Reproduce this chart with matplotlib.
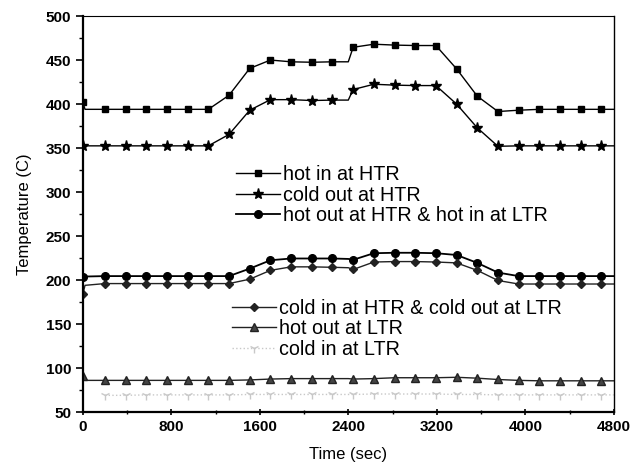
import matplotlib.pyplot as plt
from matplotlib.ticker import MultipleLocator

plt.rcParams['font.family'] = ['Liberation Sans', 'DejaVu Sans']

# czas symulacji (s)
czas = [0, 20, 200, 387, 574, 761, 948, 1135, 1322, 1509, 1696, 1883, 2070, 2257,
        2400, 2444, 2631, 2818, 3005, 3192, 3379, 3566, 3753, 3940, 4127, 4314,
        4501, 4688, 4800]

hot_in_htr = [402, 394, 394, 394, 394, 394, 394, 394, 410, 440.5, 450, 448, 447.5, 448,
              448, 464.5, 468, 467, 466.5, 466.5, 440, 409, 391.5, 393, 394, 394,
              394, 394, 394]
cold_out_htr = [352.5, 352.5, 352.5, 352.5, 352.5, 352.5, 352.5, 352.5, 365.5, 393, 405, 405, 404, 404.5,
                404.5, 416.5, 422.5, 421.5, 421, 421, 400, 373, 352, 352.5, 352.5, 352.5,
                352.5, 352.5, 352.5]
hot_out_htr = [204, 204, 204.5, 204.5, 204.5, 204.5, 204.5, 204.5, 204.5, 213, 222.5, 224.5, 224.5, 224.5,
               224, 223, 230.5, 231, 231, 230.5, 228.5, 219.5, 208.5, 204.5, 204.5, 204.5,
               204.5, 204.5, 204.5]
cold_in_htr = [184, 194, 196, 196, 196, 196, 196, 196, 196, 201, 211, 215, 215, 214.5,
               214, 212, 220.5, 221, 221, 220.5, 219.5, 211, 199.5, 195.5, 195.5, 195.5,
               195.5, 195.5, 195.5]
hot_out_ltr = [91, 86, 86, 86, 86, 86, 86, 86, 86, 86.5, 87.5, 88, 88, 88,
               88, 87.5, 88, 89, 89, 89, 89.5, 88.5, 87, 86, 85.5, 85.5,
               85.5, 85.5, 85.5]
cold_in_ltr = [float('nan'), float('nan'), 69, 69, 69.5, 69.5, 69.5, 69.5, 69.5, 70, 70, 70, 70, 70,
               70, 70, 70.5, 70.5, 70.5, 70.5, 70, 70, 69.5, 69.5, 69.5, 69.5,
               69.5, 69.5, 69.5]

etykiety = ['hot in at HTR', 'cold out at HTR', 'hot out at HTR & hot in at LTR',
            'cold in at HTR & cold out at LTR', 'hot out at LTR', 'cold in at LTR']

# punkty z markerami (bez punktow pomocniczych)
znaczniki = [0] + list(range(2, 14)) + list(range(15, 28))

fig = plt.figure(figsize=(6.42, 4.72), dpi=100)
ax = fig.add_axes([0.129, 0.127, 0.827, 0.839])

l1, = ax.plot(czas, hot_in_htr, color='black', lw=1, marker='s', ms=5, markevery=znaczniki)
l2, = ax.plot(czas, cold_out_htr, color='black', lw=1, marker='*', ms=8, markevery=znaczniki)
l3, = ax.plot(czas, hot_out_htr, color='black', lw=1.3, marker='o', ms=5.5, markevery=znaczniki)
l4, = ax.plot(czas, cold_in_htr, color='#222222', lw=1, marker='D', ms=4.5, markevery=znaczniki)
l5, = ax.plot(czas, hot_out_ltr, color='#222222', lw=1, marker='^', ms=5.5, markevery=znaczniki,
              markerfacecolor='#444444')
l6, = ax.plot(czas, cold_in_ltr, color='#c8c8c8', lw=1, ls=':', marker='1', ms=7, markevery=znaczniki)

ax.set_xlim(0, 4800)
ax.set_ylim(50, 500)
ax.xaxis.set_major_locator(MultipleLocator(800))
ax.xaxis.set_minor_locator(MultipleLocator(400))
ax.yaxis.set_major_locator(MultipleLocator(50))
ax.yaxis.set_minor_locator(MultipleLocator(25))
ax.tick_params(which='major', direction='out', length=5, width=1.2, labelsize=11)
ax.tick_params(which='minor', direction='out', length=3, width=1)
ax.tick_params(axis='x', which='both', direction='inout')
for lab in ax.get_xticklabels() + ax.get_yticklabels():
    lab.set_fontweight('bold')

ax.spines['left'].set_linewidth(1.6)
ax.spines['bottom'].set_linewidth(1.6)
ax.spines['top'].set_linewidth(0.8)
ax.spines['right'].set_linewidth(1.0)

ax.set_xlabel('Time (sec)', fontsize=12, labelpad=9)
ax.set_ylabel('Temperature (C)', fontsize=12, labelpad=10)

leg1 = fig.legend([l1, l2, l3], etykiety[:3], loc='upper left', bbox_to_anchor=(0.368, 0.650),
                  frameon=False, fontsize=14.2, handlelength=2.2, handletextpad=0.15,
                  labelspacing=0.08, borderpad=0, borderaxespad=0)
leg2 = fig.legend([l4, l5, l6], etykiety[3:], loc='upper left', bbox_to_anchor=(0.362, 0.367),
                  frameon=False, fontsize=14.2, handlelength=2.2, handletextpad=0.15,
                  labelspacing=0.08, borderpad=0, borderaxespad=0)

fig.savefig('out.png', dpi=100)
